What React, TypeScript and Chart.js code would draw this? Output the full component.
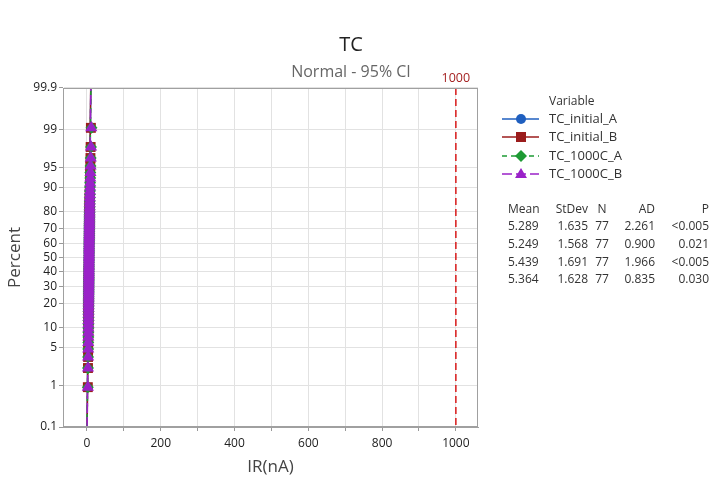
import React, { useEffect, useRef } from "react";
import { Chart, registerables } from "chart.js";

Chart.register(...registerables);

const seriesNames = ["TC_initial_A", "TC_initial_B", "TC_1000C_A", "TC_1000C_B"];

const initialA = [
  2.1, 2.6, 2.9, 3.1, 3.3, 3.4, 3.6, 3.7, 3.8, 3.9,
  4.0, 4.0, 4.1, 4.2, 4.2, 4.3, 4.4, 4.4, 4.5, 4.5,
  4.6, 4.6, 4.7, 4.7, 4.8, 4.8, 4.9, 4.9, 5.0, 5.0,
  5.0, 5.1, 5.1, 5.1, 5.2, 5.2, 5.2, 5.3, 5.3, 5.3,
  5.4, 5.4, 5.5, 5.5, 5.6, 5.6, 5.7, 5.7, 5.8, 5.8,
  5.9, 6.0, 6.0, 6.1, 6.2, 6.2, 6.3, 6.4, 6.5, 6.6,
  6.7, 6.8, 6.9, 7.0, 7.1, 7.3, 7.4, 7.6, 7.8, 8.0,
  8.2, 8.5, 8.8, 9.2, 9.6, 10.4, 11.8,
];
const initialB = [
  2.3, 2.7, 3.0, 3.2, 3.3, 3.5, 3.6, 3.7, 3.8, 3.9,
  4.0, 4.1, 4.1, 4.2, 4.3, 4.3, 4.4, 4.5, 4.5, 4.6,
  4.6, 4.7, 4.7, 4.8, 4.8, 4.9, 4.9, 5.0, 5.0, 5.0,
  5.1, 5.1, 5.1, 5.2, 5.2, 5.2, 5.3, 5.3, 5.3, 5.4,
  5.4, 5.5, 5.5, 5.5, 5.6, 5.6, 5.7, 5.7, 5.8, 5.8,
  5.9, 5.9, 6.0, 6.1, 6.1, 6.2, 6.3, 6.4, 6.5, 6.6,
  6.7, 6.8, 6.9, 7.0, 7.1, 7.2, 7.4, 7.5, 7.7, 7.9,
  8.1, 8.4, 8.7, 9.0, 9.4, 9.9, 10.6,
];
const c1000A = [
  2.2, 2.7, 3.0, 3.3, 3.4, 3.6, 3.7, 3.8, 3.9, 4.0,
  4.1, 4.2, 4.2, 4.3, 4.4, 4.4, 4.5, 4.6, 4.6, 4.7,
  4.7, 4.8, 4.9, 4.9, 5.0, 5.0, 5.1, 5.1, 5.1, 5.2,
  5.2, 5.2, 5.3, 5.3, 5.4, 5.4, 5.4, 5.5, 5.5, 5.5,
  5.6, 5.6, 5.7, 5.7, 5.8, 5.8, 5.9, 5.9, 6.0, 6.0,
  6.1, 6.2, 6.2, 6.3, 6.4, 6.4, 6.5, 6.6, 6.7, 6.8,
  6.9, 7.0, 7.1, 7.2, 7.3, 7.5, 7.6, 7.8, 8.0, 8.2,
  8.5, 8.8, 9.1, 9.6, 10.1, 10.9, 12.2,
];
const c1000B = [
  2.4, 2.8, 3.1, 3.3, 3.5, 3.6, 3.7, 3.8, 3.9, 4.0,
  4.1, 4.2, 4.2, 4.3, 4.4, 4.4, 4.5, 4.6, 4.6, 4.7,
  4.7, 4.8, 4.8, 4.9, 4.9, 5.0, 5.0, 5.1, 5.1, 5.2,
  5.2, 5.2, 5.3, 5.3, 5.3, 5.4, 5.4, 5.5, 5.5, 5.5,
  5.6, 5.6, 5.7, 5.7, 5.8, 5.8, 5.9, 5.9, 6.0, 6.1,
  6.1, 6.2, 6.3, 6.3, 6.4, 6.5, 6.6, 6.7, 6.8, 6.9,
  7.0, 7.1, 7.2, 7.3, 7.5, 7.6, 7.8, 8.0, 8.2, 8.4,
  8.7, 9.0, 9.4, 9.8, 10.3, 11.0, 11.6,
];

const means = [5.289, 5.249, 5.439, 5.364];
const stdevs = [1.635, 1.568, 1.691, 1.628];
const counts = [77, 77, 77, 77];
const adValues = ["2.261", "0.900", "1.966", "0.835"];
const pValues = ["<0.005", "0.021", "<0.005", "0.030"];

const percentTicks = [0.1, 1, 5, 10, 20, 30, 40, 50, 60, 70, 80, 90, 95, 99, 99.9];
const xTicks = [0, 100, 200, 300, 400, 500, 600, 700, 800, 900, 1000];
const refLineValue = 1000;

const colors = ["#1F5FBF", "#9B1C1C", "#1E9A34", "#9A22C8"];
const pointStyles = ["circle", "rect", "rectRot", "triangle"];
const pointRadii = [4.5, 7, 6, 7];
const dashes: number[][] = [[], [], [5, 4], [10, 4]];

// inverse standard normal CDF (Acklam)
function invNorm(p: number): number {
  const a = [-3.969683028665376e1, 2.209460984245205e2, -2.759285104469687e2, 1.38357751867269e2, -3.066479806614716e1, 2.506628277459239];
  const b = [-5.447609879822406e1, 1.615858368580409e2, -1.556989798598866e2, 6.680131188771972e1, -1.328068155288572e1];
  const c = [-7.784894002430293e-3, -3.223964580411365e-1, -2.400758277161838, -2.549732539343734, 4.374664141464968, 2.938163982698783];
  const d = [7.784695709041462e-3, 3.224671290700398e-1, 2.445134137142996, 3.754408661907416];
  const pl = 0.02425;
  let q, r;
  if (p < pl) {
    q = Math.sqrt(-2 * Math.log(p));
    return (((((c[0] * q + c[1]) * q + c[2]) * q + c[3]) * q + c[4]) * q + c[5]) / ((((d[0] * q + d[1]) * q + d[2]) * q + d[3]) * q + 1);
  }
  if (p <= 1 - pl) {
    q = p - 0.5;
    r = q * q;
    return ((((((a[0] * r + a[1]) * r + a[2]) * r + a[3]) * r + a[4]) * r + a[5]) * q) / (((((b[0] * r + b[1]) * r + b[2]) * r + b[3]) * r + b[4]) * r + 1);
  }
  q = Math.sqrt(-2 * Math.log(1 - p));
  return -(((((c[0] * q + c[1]) * q + c[2]) * q + c[3]) * q + c[4]) * q + c[5]) / ((((d[0] * q + d[1]) * q + d[2]) * q + d[3]) * q + 1);
}

const FONT = "'Open Sans', 'Noto Sans', sans-serif";

export default function App() {
  const ref = useRef<HTMLCanvasElement | null>(null);

  useEffect(() => {
    document.body.style.margin = "0";
    const canvas = ref.current;
    if (!canvas) return;
    const allSeries = [initialA, initialB, c1000A, c1000B];
    const zMin = invNorm(0.001);
    const zMax = invNorm(0.999);

    const datasets: any[] = [];
    allSeries.forEach((vals, si) => {
      const sorted = [...vals].sort((a, b) => a - b);
      const n = sorted.length;
      datasets.push({
        type: "scatter",
        label: seriesNames[si],
        data: sorted.map((v, i) => ({ x: v, y: invNorm((i + 1 - 0.3) / (n + 0.4)) })),
        backgroundColor: colors[si],
        borderColor: colors[si],
        pointStyle: pointStyles[si],
        pointRadius: pointRadii[si],
        borderWidth: 0,
        showLine: false,
        order: 4 - si,
      });
      datasets.push({
        type: "line",
        label: seriesNames[si] + "_fit",
        data: [
          { x: means[si] + stdevs[si] * -3.6, y: -3.6 },
          { x: means[si] + stdevs[si] * 3.6, y: 3.6 },
        ],
        borderColor: colors[si],
        borderWidth: 1.5,
        borderDash: dashes[si],
        pointRadius: 0,
        fill: false,
        order: 10 - si,
      });
    });

    const overlay = {
      id: "overlay",
      afterDatasetsDraw(chart: any) {
        const { ctx, chartArea, scales } = chart;
        const x = scales.x.getPixelForValue(refLineValue);
        ctx.save();
        ctx.strokeStyle = "#D91A1A";
        ctx.lineWidth = 1.5;
        ctx.setLineDash([7, 4]);
        ctx.beginPath();
        ctx.moveTo(x, chartArea.top);
        ctx.lineTo(x, chartArea.bottom);
        ctx.stroke();
        ctx.setLineDash([]);
        ctx.strokeStyle = "#A0A0A0";
        ctx.lineWidth = 1;
        ctx.strokeRect(chartArea.left + 0.5, chartArea.top + 0.5, chartArea.right - chartArea.left - 1, chartArea.bottom - chartArea.top - 1);
        ctx.restore();
      },
      afterDraw(chart: any) {
        const { ctx, chartArea, scales } = chart;
        ctx.save();
        ctx.textBaseline = "middle";
        // titles
        ctx.textAlign = "center";
        ctx.fillStyle = "#222";
        ctx.font = `20px ${FONT}`;
        ctx.fillText("TC", 351, 45);
        ctx.fillStyle = "#666";
        ctx.font = `16px ${FONT}`;
        ctx.fillText("Normal - 95% CI", 351, 72);
        // ref label
        ctx.fillStyle = "#A52222";
        ctx.font = `12.5px ${FONT}`;
        ctx.fillText(String(refLineValue), scales.x.getPixelForValue(refLineValue), 78);
        // axis titles
        ctx.fillStyle = "#444";
        ctx.font = `17px ${FONT}`;
        ctx.fillText("IR(nA)", (chartArea.left + chartArea.right) / 2, 467);
        ctx.save();
        ctx.translate(15, (chartArea.top + chartArea.bottom) / 2);
        ctx.rotate(-Math.PI / 2);
        ctx.fillText("Percent", 0, 0);
        ctx.restore();
        // legend
        ctx.textAlign = "left";
        ctx.fillStyle = "#333";
        ctx.font = `12px ${FONT}`;
        ctx.fillText("Variable", 549, 102);
        const ly = [119, 137, 156, 174];
        seriesNames.forEach((name, i) => {
          ctx.strokeStyle = colors[i];
          ctx.lineWidth = 1.5;
          ctx.setLineDash(dashes[i]);
          ctx.beginPath();
          ctx.moveTo(502, ly[i]);
          ctx.lineTo(539, ly[i]);
          ctx.stroke();
          ctx.setLineDash([]);
          ctx.fillStyle = colors[i];
          const cx = 521, cy = ly[i];
          ctx.beginPath();
          if (i === 0) {
            ctx.arc(cx, cy, 5, 0, Math.PI * 2);
          } else if (i === 1) {
            ctx.rect(cx - 5, cy - 5, 10, 10);
          } else if (i === 2) {
            ctx.moveTo(cx, cy - 6); ctx.lineTo(cx + 6, cy); ctx.lineTo(cx, cy + 6); ctx.lineTo(cx - 6, cy); ctx.closePath();
          } else {
            ctx.moveTo(cx, cy - 6); ctx.lineTo(cx + 6, cy + 4); ctx.lineTo(cx - 6, cy + 4); ctx.closePath();
          }
          ctx.fill();
          ctx.fillStyle = "#333";
          ctx.font = `13px ${FONT}`;
          ctx.fillText(name, 549, ly[i]);
        });
        // stats table
        ctx.font = `12px ${FONT}`;
        const ty = [210, 227, 245, 263, 280];
        ctx.textAlign = "left";
        ctx.fillText("Mean", 508, ty[0]);
        ctx.textAlign = "right";
        ctx.fillText("StDev", 588, ty[0]);
        ctx.textAlign = "center";
        ctx.fillText("N", 602, ty[0]);
        ctx.textAlign = "right";
        ctx.fillText("AD", 655, ty[0]);
        ctx.fillText("P", 709, ty[0]);
        for (let i = 0; i < 4; i++) {
          const y = ty[i + 1];
          ctx.textAlign = "left";
          ctx.fillText(means[i].toFixed(3), 508, y);
          ctx.textAlign = "right";
          ctx.fillText(stdevs[i].toFixed(3), 588, y);
          ctx.textAlign = "center";
          ctx.fillText(String(counts[i]), 602, y);
          ctx.textAlign = "right";
          ctx.fillText(adValues[i], 655, y);
          ctx.fillText(pValues[i], 709, y);
        }
        ctx.restore();
      },
    };

    const chart = new Chart(canvas, {
      type: "scatter",
      data: { datasets },
      plugins: [overlay],
      options: {
        responsive: false,
        animation: false,
        events: [],
        layout: { padding: { left: 0, top: 88, right: 249, bottom: 0 } },
        plugins: { legend: { display: false }, tooltip: { enabled: false } },
        scales: {
          x: {
            type: "linear",
            min: -65,
            max: 1060,
            afterBuildTicks: (scale: any) => {
              scale.ticks = xTicks.map((v) => ({ value: v }));
            },
            afterFit: (scale: any) => {
              scale.height = 55;
            },
            ticks: {
              autoSkip: false,
              maxRotation: 0,
              padding: 5,
              color: "#222",
              font: { family: FONT, size: 12 },
              callback: (v: any) => (Number(v) % 200 === 0 ? String(v) : ""),
            },
            grid: { color: "#E2E2E2", tickColor: "#999", tickLength: 4, lineWidth: 1 },
            border: { display: true, color: "#A0A0A0" },
          },
          y: {
            type: "linear",
            min: zMin,
            max: zMax,
            afterBuildTicks: (scale: any) => {
              scale.ticks = percentTicks.map((p) => ({ value: invNorm(p / 100) }));
            },
            afterFit: (scale: any) => {
              scale.width = 63;
            },
            ticks: {
              autoSkip: false,
              padding: 2,
              color: "#222",
              font: { family: FONT, size: 12 },
              callback: (_v: any, i: number) => String(percentTicks[i]),
            },
            grid: { color: "#E2E2E2", tickColor: "#999", tickLength: 4, lineWidth: 1 },
            border: { display: true, color: "#A0A0A0" },
          },
        },
      },
    });
    return () => chart.destroy();
  }, []);

  return (
    <div style={{ width: 727, height: 482, background: "#fff" }}>
      <canvas ref={ref} width={727} height={482} style={{ display: "block" }} />
    </div>
  );
}
